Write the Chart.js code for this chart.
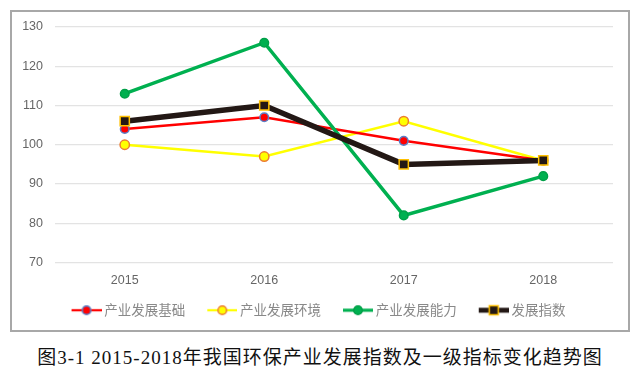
<!DOCTYPE html>
<html><head><meta charset="utf-8">
<script src="https://cdn.jsdelivr.net/npm/chart.js@4/dist/chart.umd.min.js"></script>
<style>
html,body{margin:0;padding:0;background:#fff;width:640px;height:377px;overflow:hidden;}
#box{position:absolute;left:10px;top:10px;width:616px;height:318px;border:2px solid #a8a8a8;}
#cap{position:absolute;left:0;width:640px;top:342px;text-align:center;font-family:"Liberation Serif","Noto Sans CJK SC",serif;font-size:19px;color:#111;letter-spacing:1px;white-space:nowrap;}
</style></head>
<body>
<div id="box"><canvas id="c" width="616" height="318"></canvas></div>
<div id="cap">图3-1 2015-2018年我国环保产业发展指数及一级指标变化趋势图</div>
<script>
const categories = ["2015","2016","2017","2018"];
const seriesNames = ["产业发展基础","产业发展环境","产业发展能力","发展指数"];
const jichu = [104,107,101,96];
const huanjing = [100,97,106,96];
const nengli = [113,126,82,92];
const zhishu = [106,110,95,96];
const yTicks = [70,80,90,100,110,120,130];

function legendIcon(line, lw, shape, fill, stroke, r){
  const c=document.createElement('canvas');c.width=46;c.height=14;
  const g=c.getContext('2d');
  g.strokeStyle=line;g.lineWidth=lw;g.beginPath();g.moveTo(16,7);g.lineTo(46,7);g.stroke();
  g.fillStyle=fill;g.strokeStyle=stroke;g.lineWidth=1.5;g.beginPath();
  if(shape==='rect'){g.rect(31-r,7-r,2*r,2*r);}else{g.arc(31,7,r,0,Math.PI*2);}
  g.fill();g.stroke();
  return c;
}
const styles=[
 {line:'#ff0000',lw:2.5,shape:'circle',fill:'#ff0000',stroke:'#5b7fc7',r:4.3,order:3},
 {line:'#ffff00',lw:2.5,shape:'circle',fill:'#ffff00',stroke:'#ed7d31',r:4.7,order:4},
 {line:'#00b050',lw:3.5,shape:'circle',fill:'#00b050',stroke:'#00a048',r:4.3,order:2},
 {line:'#231815',lw:5.5,shape:'rect',fill:'#231815',stroke:'#ffc000',r:6.5,order:1}
];
const dataArr=[jichu,huanjing,nengli,zhishu];
const datasets=dataArr.map((d,i)=>{const s=styles[i];return{
  label:seriesNames[i],data:d,borderColor:s.line,backgroundColor:s.fill,borderWidth:s.lw,
  pointStyle:s.shape==='rect'?'rect':'circle',pointRadius:s.r,pointBorderColor:s.stroke,
  pointBackgroundColor:s.fill,pointBorderWidth:1.5,pointHoverRadius:s.r,tension:0,order:s.order,
  legendIcon:legendIcon(s.line,s.lw*0.9,s.shape,s.fill,s.stroke,s.shape==='rect'?4.5:4.3)
};});
new Chart(document.getElementById('c'),{
 type:'line',
 data:{labels:categories,datasets},
 options:{
  responsive:false,animation:false,devicePixelRatio:1,
  layout:{padding:{left:0,right:15,top:15,bottom:3}},
  plugins:{
   tooltip:{enabled:false},
   legend:{position:'bottom',
    labels:{usePointStyle:true,pointStyleWidth:38,padding:10,color:'#898989',
     font:{family:'"Noto Sans CJK SC"',size:13.5},
     generateLabels:(chart)=>chart.data.datasets.map((ds,i)=>({text:ds.label,pointStyle:ds.legendIcon,fillStyle:ds.borderColor,strokeStyle:ds.borderColor,lineWidth:0,datasetIndex:i,hidden:false,fontColor:'#898989'}))
    }}
  },
  scales:{
   x:{offset:true,grid:{display:false},border:{display:false},
      afterFit:(s)=>{s.height=31;s.paddingLeft=0;s.paddingRight=0;},
      ticks:{color:'#666',font:{family:'"Liberation Sans"',size:12.5},padding:3}},
   y:{min:70,max:130,afterBuildTicks:(s)=>{s.ticks=yTicks.map(v=>({value:v}));},
      afterFit:(s)=>{s.width=43;s.paddingTop=0;s.paddingBottom=0;},
      grid:{color:'#e3e3e3',lineWidth:1.2,drawTicks:false},border:{display:false},
      ticks:{color:'#666',font:{family:'"Liberation Sans"',size:12.5},padding:12}}
  }
 }
});
</script>
</body></html>
